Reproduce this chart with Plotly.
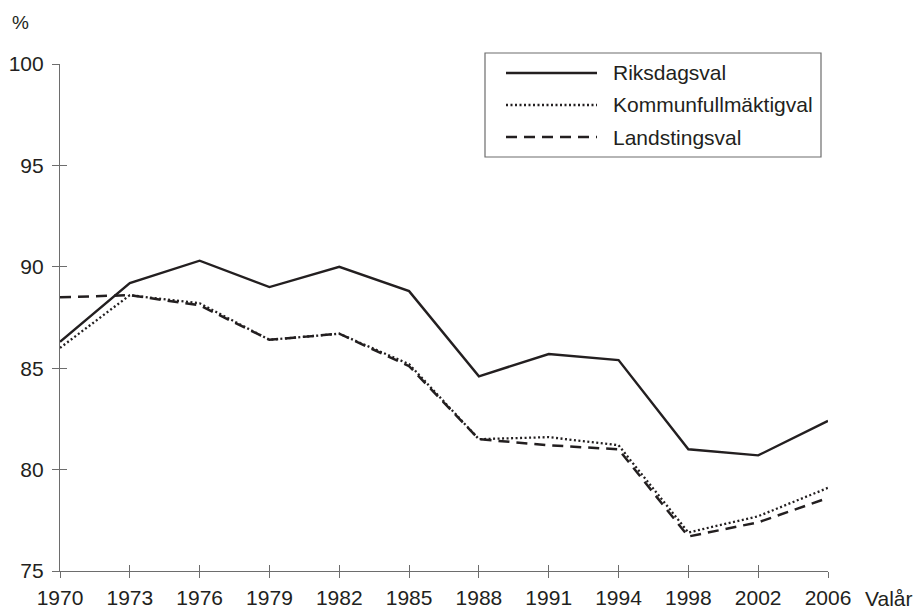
import plotly.graph_objects as go

years = ["1970", "1973", "1976", "1979", "1982", "1985", "1988", "1991", "1994", "1998", "2002", "2006"]
riksdagsval = [86.3, 89.2, 90.3, 89.0, 90.0, 88.8, 84.6, 85.7, 85.4, 81.0, 80.7, 82.4]
kommunfullmaktigval = [86.0, 88.6, 88.2, 86.4, 86.7, 85.2, 81.5, 81.6, 81.2, 76.9, 77.7, 79.1]
landstingsval = [88.5, 88.6, 88.1, 86.4, 86.7, 85.1, 81.5, 81.2, 81.0, 76.7, 77.4, 78.6]
y_ticks = [75, 80, 85, 90, 95, 100]
series_names = ["Riksdagsval", "Kommunfullmäktigval", "Landstingsval"]

W, H = 916, 609
L, R, T, B = 60, 828, 64, 571
INK = "#231f20"
AXIS = "#6d6d6d"
FONT = "Liberation Sans, Arial, sans-serif"
FS = 21

styles = [
    dict(width=2.4, dash="solid"),
    dict(width=2.3, dash="2px,2.5px"),
    dict(width=2.5, dash="11px,7px"),
]

fig = go.Figure()
for name, vals, st in zip(series_names, [riksdagsval, kommunfullmaktigval, landstingsval], styles):
    fig.add_trace(go.Scatter(x=years, y=vals, mode="lines", name=name,
                             line=dict(color=INK, width=st["width"], dash=st["dash"]),
                             showlegend=False))

# helper trace so overlay axes (inner tick halves) are drawn
fig.add_trace(go.Scatter(x=years, y=[None] * len(years), xaxis="x2", yaxis="y2",
                         mode="lines", showlegend=False, hoverinfo="skip"))

def px2paper_x(px):
    return (px - L) / (R - L)

def px2paper_y(py):
    return (B - py) / (B - T)

common_x = dict(type="category", range=[0, len(years) - 1], showgrid=False, zeroline=False,
                automargin=False)
common_y = dict(range=[75, 100], tickvals=y_ticks, showgrid=False, zeroline=False,
                automargin=False)

fig.update_layout(
    width=W, height=H,
    margin=dict(l=L, r=W - R, t=T, b=H - B, autoexpand=False),
    paper_bgcolor="white", plot_bgcolor="white",
    font=dict(family=FONT, size=FS, color=INK),
    xaxis=dict(**common_x, showline=True, linecolor=AXIS, linewidth=1.2,
               ticks="outside", ticklen=6, tickwidth=1.2, tickcolor=AXIS,
               ticklabelstandoff=2,
               tickfont=dict(size=FS, color=INK)),
    yaxis=dict(**common_y, showline=True, linecolor=AXIS, linewidth=1.2,
               ticks="outside", ticklen=7, tickwidth=1.2, tickcolor=AXIS,
               ticklabelstandoff=4,
               tickfont=dict(size=FS, color=INK)),
    xaxis2=dict(**common_x, overlaying="x", ticks="inside", ticklen=6, tickwidth=1.2,
                tickcolor=AXIS, showticklabels=False, showline=False),
    yaxis2=dict(**common_y, overlaying="y", ticks="inside", ticklen=7, tickwidth=1.2,
                tickcolor=AXIS, showticklabels=False, showline=False),
    showlegend=False,
)

# Axis captions
fig.add_annotation(text="%", xref="paper", yref="paper", x=px2paper_x(20), y=px2paper_y(22),
                   showarrow=False, font=dict(size=19, color=INK), xanchor="center", yanchor="middle")
fig.add_annotation(text="Valår", xref="paper", yref="paper", x=px2paper_x(863), y=px2paper_y(598),
                   showarrow=False, font=dict(size=FS, color=INK), xanchor="left", yanchor="middle")

# Custom legend box
fig.add_shape(type="rect", xref="paper", yref="paper",
              x0=px2paper_x(485), x1=px2paper_x(821), y0=px2paper_y(157), y1=px2paper_y(53),
              line=dict(color=AXIS, width=1.2), fillcolor="white", layer="above")
legend_rows = [73, 105, 137]
for name, st, yy in zip(series_names, styles, legend_rows):
    fig.add_shape(type="line", xref="paper", yref="paper",
                  x0=px2paper_x(506), x1=px2paper_x(597), y0=px2paper_y(yy), y1=px2paper_y(yy),
                  line=dict(color=INK, width=st["width"], dash=st["dash"]), layer="above")
    fig.add_annotation(text=name, xref="paper", yref="paper", x=px2paper_x(611), y=px2paper_y(yy),
                       showarrow=False, font=dict(size=FS, color=INK), xanchor="left", yanchor="middle")

fig.write_html("out.html", config={"displayModeBar": False},
               post_script="document.body.style.margin='0';document.body.style.overflow='hidden';")
